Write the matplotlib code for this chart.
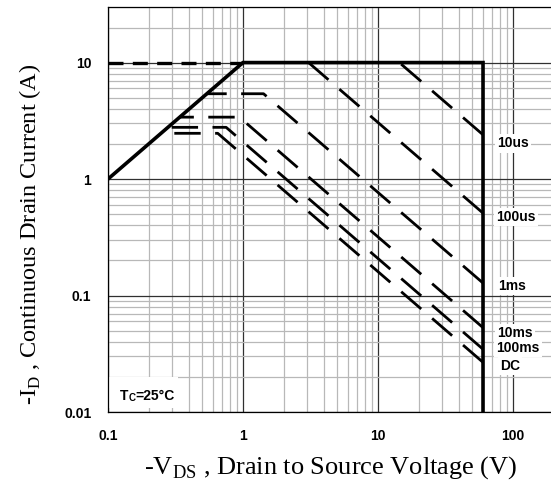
import matplotlib.pyplot as plt
from matplotlib.patches import Rectangle
from matplotlib.ticker import LogLocator, FixedLocator

plt.rcParams['mathtext.fontset'] = 'custom'
plt.rcParams['mathtext.rm'] = 'Liberation Serif'

# SOA boundary (RDS(on) limit, current limit, BVDSS limit)
soa_v = [0.1, 1, 60, 60]
soa_i = [1, 10, 10, 0.01]
lim_v = [0.1, 1]
lim_i = [10, 10]

# pulse-width curves (listed from the 60 V end so the dash pattern starts there)
curves = {
    '10us': ([60, 14.4], [2.4, 10]),
    '100us': ([60, 3.06], [0.51, 10]),
    '1ms': ([60, 1.42, 0.54], [0.128, 5.4, 5.4]),
    '10ms': ([60, 0.94, 0.34], [0.053, 3.4, 3.4]),
    '100ms': ([60, 0.75, 0.28], [0.0346, 2.78, 2.78]),
    'DC': ([60, 0.65, 0.25], [0.0267, 2.47, 2.47]),
}
label_pos = {
    '10us': (76, 2.02),
    '100us': (75, 0.47),
    '1ms': (77, 0.12),
    '10ms': (76, 0.0476),
    '100ms': (75, 0.0355),
    'DC': (80, 0.0248),
}

fig = plt.figure(figsize=(5.51, 4.87), dpi=100)
ax = fig.add_axes([108 / 551, 75 / 487, 445.6 / 551, 405 / 487])
ax.set_xscale('log')
ax.set_yscale('log')
ax.set_xlim(0.1, 200)
ax.set_ylim(0.01, 30)

ax.xaxis.set_major_locator(FixedLocator([0.1, 1, 10, 100]))
ax.yaxis.set_major_locator(FixedLocator([0.01, 0.1, 1, 10]))
ax.xaxis.set_minor_locator(LogLocator(base=10, subs=range(2, 10)))
ax.yaxis.set_minor_locator(LogLocator(base=10, subs=range(2, 10)))
ax.set_xticklabels(['0.1', '1', '10', '100'])
ax.set_yticklabels(['0.01', '0.1', '1', '10'])
ax.tick_params(which='both', length=0)
ax.tick_params(axis='x', pad=12)
ax.tick_params(axis='y', pad=12)
for lab in ax.get_xticklabels() + ax.get_yticklabels():
    lab.set_fontfamily('Liberation Sans')
    lab.set_fontweight('bold')
    lab.set_fontsize(10)

ax.grid(which='major', color='#303030', linewidth=0.9)
ax.grid(which='minor', color='#b8b8b8', linewidth=0.9)
ax.set_axisbelow(True)
for s in ax.spines.values():
    s.set_linewidth(0.9)

ax.plot(soa_v, soa_i, color='black', linewidth=2.6, solid_joinstyle='miter')
ax.plot(lim_v, lim_i, color='black', linewidth=2.4, dashes=(4.5, 2.8))
for name, (v, i) in curves.items():
    ax.plot(v, i, color='black', linewidth=2.0, dashes=(9.5, 5.2))

for name, (x, y) in label_pos.items():
    ax.text(x, y, name, fontfamily='Liberation Sans', fontweight='bold', fontsize=10,
            va='center', ha='left', zorder=5,
            bbox=dict(facecolor='white', edgecolor='none', pad=1.5))

# Tc note with white backing
ax.add_patch(Rectangle((0.1, 0.0108), 0.23, 0.0092, facecolor='white', edgecolor='none', zorder=1.5))
t1 = ax.text(0.123, 0.0137, 'T', fontfamily='Liberation Sans', fontweight='bold',
             fontsize=10, va='center', ha='left', zorder=5)
t2 = ax.annotate('C', xy=(1, 0), xycoords=t1, va='bottom', ha='left', fontsize=7,
                 fontfamily='Liberation Sans', fontweight='bold', zorder=5)
ax.annotate('=25°C', xy=(1, 0), xycoords=t2, va='bottom', ha='left', fontsize=10,
            fontfamily='Liberation Sans', fontweight='bold', zorder=5)

ax.set_xlabel(r'-V$_\mathrm{DS}$ , Drain to Source Voltage (V)', fontfamily='Liberation Serif',
              fontsize=19, labelpad=8)
ax.set_ylabel(r'-I$_\mathrm{D}$ , Continuous Drain Current (A)', fontfamily='Liberation Serif',
              fontsize=17.5)
ax.yaxis.set_label_coords(-0.145, 0.44)

fig.savefig('out.png', dpi=100)
